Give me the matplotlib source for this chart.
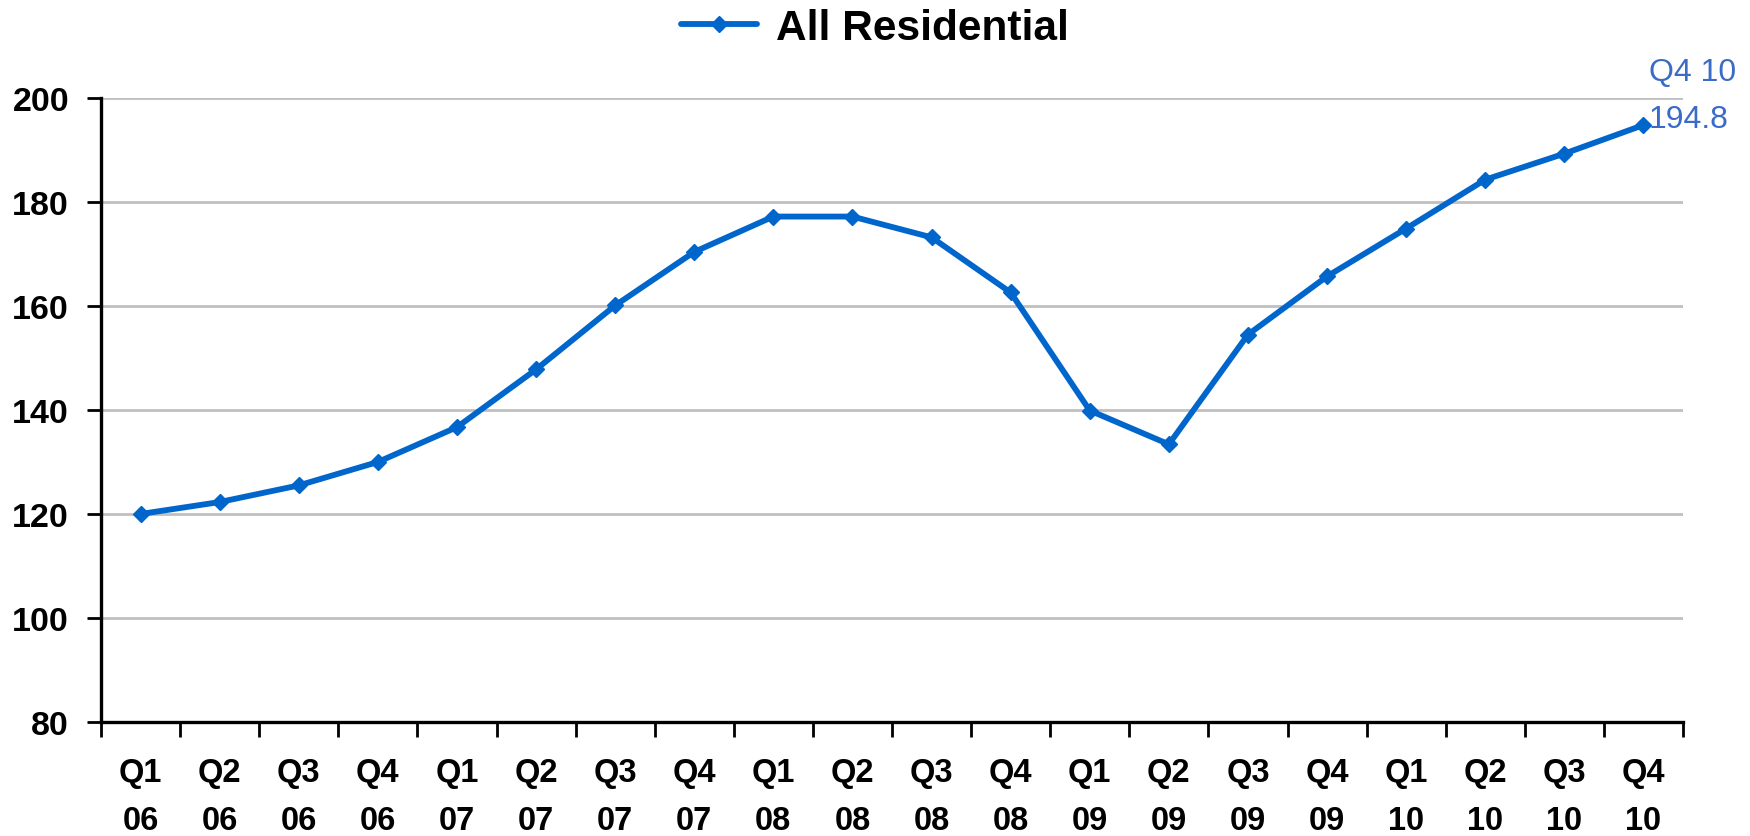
import matplotlib
matplotlib.use("Agg")
import matplotlib.pyplot as plt
import numpy as np

categories = ["Q1\n06", "Q2\n06", "Q3\n06", "Q4\n06",
              "Q1\n07", "Q2\n07", "Q3\n07", "Q4\n07",
              "Q1\n08", "Q2\n08", "Q3\n08", "Q4\n08",
              "Q1\n09", "Q2\n09", "Q3\n09", "Q4\n09",
              "Q1\n10", "Q2\n10", "Q3\n10", "Q4\n10"]
values = [120.0, 122.3, 125.5, 130.0,
          136.7, 147.8, 160.1, 170.4,
          177.2, 177.2, 173.2, 162.6,
          139.9, 133.4, 154.5, 165.7,
          174.9, 184.3, 189.3, 194.8]
yticks = [80, 100, 120, 140, 160, 180, 200]
series_name = "All Residential"
last_label = "Q4 10"

plt.rcParams['font.family'] = ['Liberation Sans', 'DejaVu Sans']

fig = plt.figure(figsize=(17.5, 8.37), dpi=100)
ax = fig.add_axes([101/1750, 1-723/837, (1683-101)/1750, (723-99)/837])

n = len(categories)
x = np.arange(n) + 0.5
line, = ax.plot(x, values, color='#0066CC', lw=4.2, marker='D', ms=8,
                label=series_name, zorder=3, solid_joinstyle='round',
                solid_capstyle='round')

ax.set_xlim(0, n)
ax.set_ylim(80, 200)
ax.set_yticks(yticks)
ax.yaxis.grid(True, color='#C0C0C0', lw=2.0, zorder=0)
ax.set_axisbelow(True)

ax.set_xticks(np.arange(n + 1))
ax.set_xticklabels([])
ax.set_xticks(x, minor=True)
ax.set_xticklabels(categories, minor=True, fontsize=23.5, fontweight='bold',
                   linespacing=1.7)
ax.tick_params(axis='x', which='major', length=11, width=2, direction='out')
ax.tick_params(axis='x', which='minor', length=0, pad=25)
ax.tick_params(axis='y', length=10, width=2, direction='out', pad=13,
               labelsize=24.5)
for lbl in ax.get_yticklabels():
    lbl.set_fontweight('bold')

for s in ['top', 'right']:
    ax.spines[s].set_visible(False)
for s in ['left', 'bottom']:
    ax.spines[s].set_linewidth(2.4)
    ax.spines[s].set_color('black')

# annotation of last point
ann_color = '#3A6BC9'
ax.annotate(f"{values[-1]:.1f}", xy=(x[-1], values[-1]), xytext=(4, 4),
            textcoords='offset points', ha='left', va='center',
            fontsize=23, color=ann_color, annotation_clip=False)
ax.annotate(last_label, xy=(x[-1], values[-1]), xytext=(4, 38),
            textcoords='offset points', ha='left', va='center',
            fontsize=23, color=ann_color, annotation_clip=False)

leg = fig.legend(handles=[line], loc='center', bbox_to_anchor=(0.5, 1-29/837),
                 frameon=False, prop={'size': 30.5, 'weight': 'bold'},
                 handlelength=1.8, handletextpad=0.45)

fig.savefig("out.png", dpi=100)
